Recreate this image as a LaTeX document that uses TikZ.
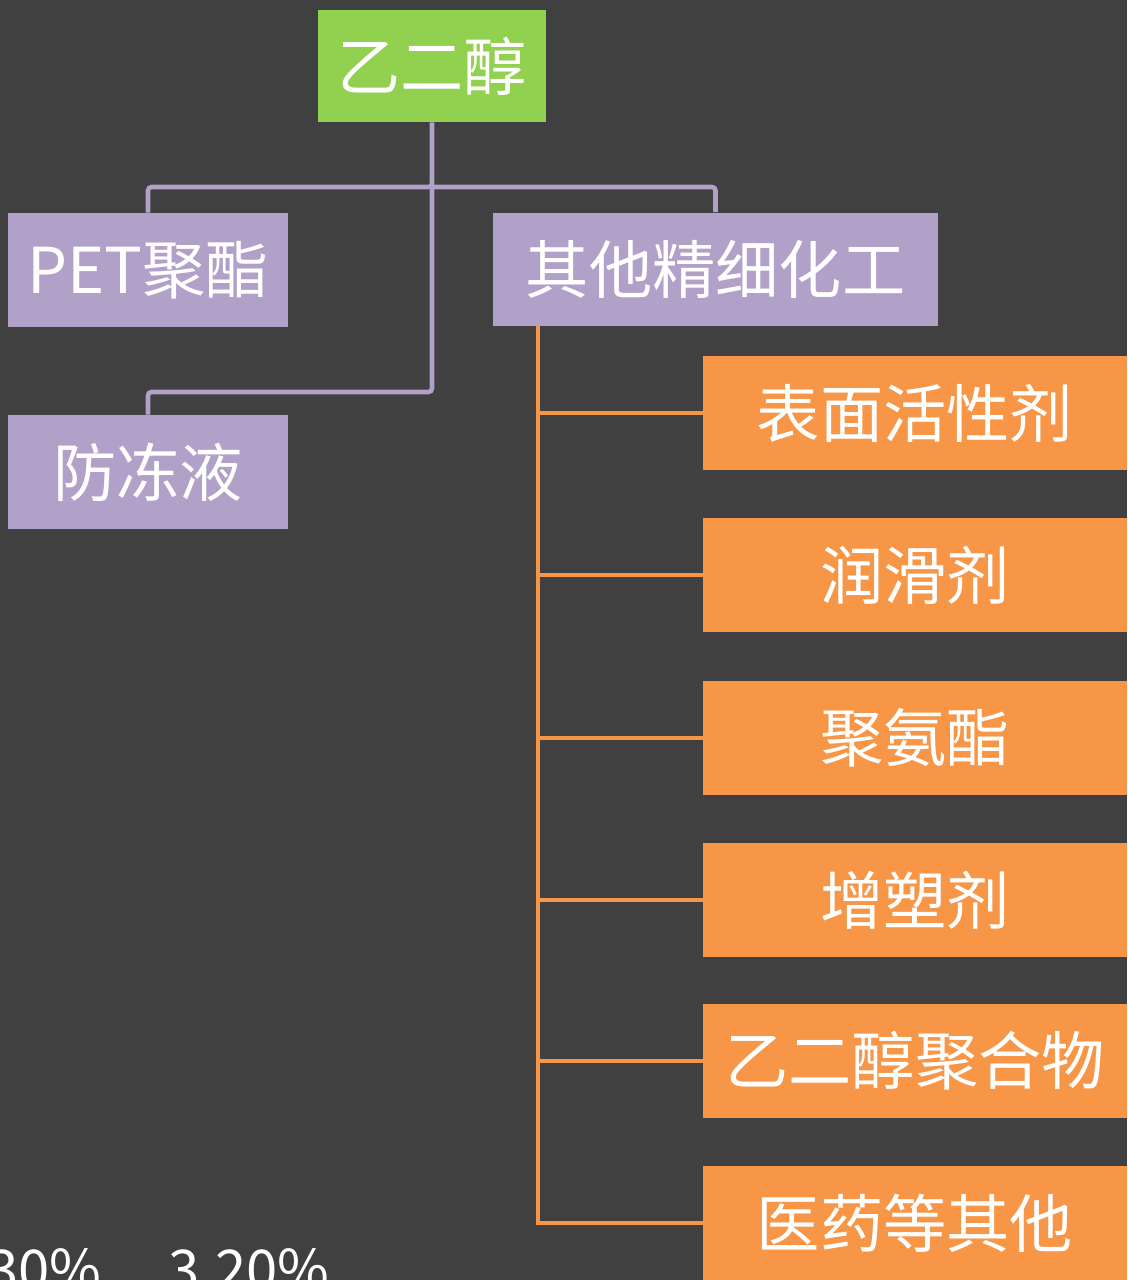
\documentclass[tikz,border=0pt]{standalone}
\usepackage{fontspec}
\setmainfont{Noto Sans CJK SC}
\definecolor{bgdark}{HTML}{404040}
\definecolor{rootgreen}{HTML}{92D050}
\definecolor{lilac}{HTML}{B1A0C7}
\definecolor{tangerine}{HTML}{F79646}

\begin{document}
\begin{tikzpicture}[x=0.02cm,y=-0.02cm]
  \tikzstyle{box}=[rectangle,inner sep=0pt,text=white,font=\fontsize{36}{40}\selectfont]
  \tikzstyle{rootbox}=[box,fill=rootgreen,minimum width=4.56cm,minimum height=2.24cm]
  \tikzstyle{midbox}=[box,fill=lilac,minimum height=2.28cm]
  \tikzstyle{leafbox}=[box,fill=tangerine,minimum width=8.48cm,minimum height=2.28cm]
  \tikzstyle{pedge}=[draw=lilac,line width=2.6pt,rounded corners=2pt]
  \tikzstyle{oedge}=[draw=tangerine,line width=2.6pt]
  \tikzstyle{pct}=[anchor=base east,inner sep=0pt,text=white,font=\fontsize{32}{36}\selectfont]

  \useasboundingbox[fill=bgdark] (0,0) rectangle (1127,1280);
  \clip (0,0) rectangle (1127,1280);

  \node [rootbox] (root) at (432,66) {乙二醇};
  \node [midbox,minimum width=5.6cm] (pet) at (148,270) {PET聚酯};
  \node [midbox,minimum width=5.6cm] (anti) at (148,472) {防冻液};
  \node [midbox,minimum width=8.9cm] (fine) at (715.5,269.5) {其他精细化工};

  \node [leafbox] (surf) at (915,413) {表面活性剂};
  \node [leafbox] (lube) at (915,575) {润滑剂};
  \node [leafbox] (pu) at (915,738) {聚氨酯};
  \node [leafbox] (plast) at (915,900) {增塑剂};
  \node [leafbox] (peg) at (915,1061) {乙二醇聚合物};
  \node [leafbox] (misc) at (915,1223) {医药等其他};

  \node [pct] (pcta) at (102,1290) {30\%};
  \node [pct] (pctb) at (330,1290) {3.20\%};

  \coordinate (bus) at (432,187);
  \coordinate (bend) at (432,392);
  \coordinate (trunk) at (538,326);

  \path[pedge] (root.south) -- (bus) -| (pet.north);
  \path[pedge] (bus) -| (fine.north);
  \path[pedge] (bus) -- (bend) -| (anti.north);

  \path[oedge] (trunk) |- (surf.west);
  \path[oedge] (trunk) |- (lube.west);
  \path[oedge] (trunk) |- (pu.west);
  \path[oedge] (trunk) |- (plast.west);
  \path[oedge] (trunk) |- (peg.west);
  \path[oedge] (trunk) |- (misc.west);
\end{tikzpicture}
\end{document}
